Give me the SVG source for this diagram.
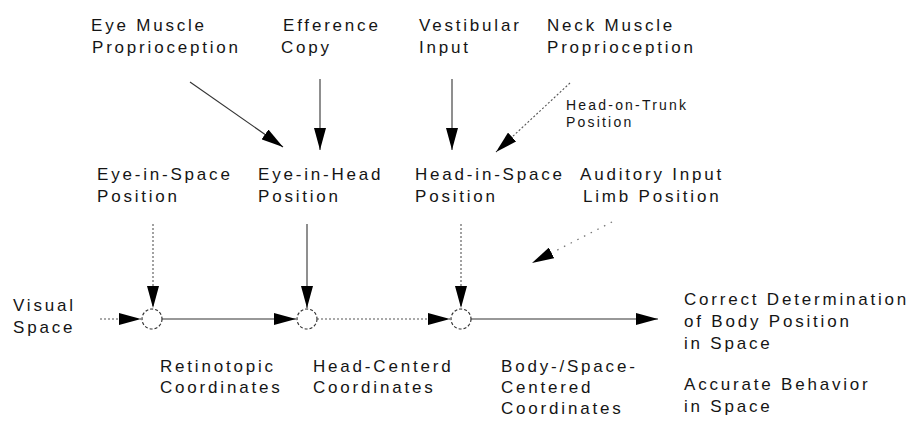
<svg xmlns="http://www.w3.org/2000/svg" width="913" height="433" viewBox="0 0 913 433">
<style>
.t{font-family:"Liberation Sans",Arial,sans-serif;font-size:17px;letter-spacing:2.8px;fill:#151515}
.s{font-family:"Liberation Sans",Arial,sans-serif;font-size:14px;letter-spacing:2.2px;fill:#151515}
.ln{fill:none;stroke:#333;stroke-width:1.1}
.dt{fill:none;stroke:#555;stroke-width:1.1;stroke-dasharray:2 2}
.sp{fill:none;stroke:#777;stroke-width:1.3;stroke-dasharray:1.5 6}
.cir{fill:#fff;stroke:#333;stroke-width:1.2;stroke-dasharray:3 2}
</style>
<defs>
<marker id="ah" markerUnits="userSpaceOnUse" markerWidth="22" markerHeight="12" refX="22" refY="6" orient="auto">
<path d="M0,0 L22,6 L0,12 z" fill="#000"/>
</marker>
</defs>
<rect width="913" height="433" fill="#fff"/>

<g id="eye-muscle"><text class="t" x="91" y="31">Eye Muscle</text><text class="t" x="92" y="53">Proprioception</text></g>
<g id="efference"><text class="t" x="283" y="31">Efference</text><text class="t" x="281" y="53">Copy</text></g>
<g id="vestibular"><text class="t" x="419" y="31">Vestibular</text><text class="t" x="419" y="53">Input</text></g>
<g id="neck-muscle"><text class="t" x="547" y="31">Neck Muscle</text><text class="t" x="547" y="53">Proprioception</text></g>
<g id="head-on-trunk"><text class="s" x="566" y="110">Head-on-Trunk</text><text class="s" x="566" y="127">Position</text></g>

<g id="eye-in-space"><text class="t" x="97" y="180">Eye-in-Space</text><text class="t" x="97" y="202">Position</text></g>
<g id="eye-in-head"><text class="t" x="258" y="180">Eye-in-Head</text><text class="t" x="258" y="202">Position</text></g>
<g id="head-in-space"><text class="t" x="415" y="180">Head-in-Space</text><text class="t" x="415" y="202">Position</text></g>
<g id="auditory"><text class="t" x="580" y="180">Auditory Input</text><text class="t" x="583" y="202">Limb Position</text></g>

<g id="visual-space"><text class="t" x="13" y="311">Visual</text><text class="t" x="13" y="333">Space</text></g>
<g id="c1"><circle class="cir" cx="152" cy="319" r="10"/></g>
<g id="c2"><circle class="cir" cx="307" cy="319" r="10"/></g>
<g id="c3"><circle class="cir" cx="461" cy="319" r="10"/></g>

<g id="retinotopic"><text class="t" x="160" y="372">Retinotopic</text><text class="t" x="160" y="393">Coordinates</text></g>
<g id="head-centered"><text class="t" x="313" y="372">Head-Centerd</text><text class="t" x="313" y="393">Coordinates</text></g>
<g id="body-centered"><text class="t" x="501" y="372">Body-/Space-</text><text class="t" x="501" y="393">Centered</text><text class="t" x="501" y="414">Coordinates</text></g>
<g id="correct"><text class="t" x="684" y="305">Correct Determination</text><text class="t" x="684" y="327">of Body Position</text><text class="t" x="684" y="349">in Space</text></g>
<g id="accurate"><text class="t" x="684" y="390">Accurate Behavior</text><text class="t" x="684" y="412">in Space</text></g>

<g id="connectors">
<line class="ln" x1="190" y1="82" x2="283" y2="147" marker-end="url(#ah)"/>
<line class="ln" x1="320" y1="79" x2="320" y2="150" marker-end="url(#ah)"/>
<line class="ln" x1="452" y1="79" x2="452" y2="150" marker-end="url(#ah)"/>
<line class="dt" x1="570" y1="83" x2="496" y2="152" marker-end="url(#ah)"/>
<line class="dt" x1="153" y1="224" x2="153" y2="308" marker-end="url(#ah)"/>
<line class="ln" x1="307" y1="224" x2="307" y2="308" marker-end="url(#ah)"/>
<line class="dt" x1="461" y1="224" x2="461" y2="308" marker-end="url(#ah)"/>
<line class="sp" x1="612" y1="222" x2="532" y2="263" marker-end="url(#ah)"/>
<line class="dt" x1="100" y1="319" x2="141" y2="319" marker-end="url(#ah)"/>
<line class="ln" x1="162" y1="319" x2="296" y2="319" marker-end="url(#ah)"/>
<line class="dt" x1="317" y1="319" x2="450" y2="319" marker-end="url(#ah)"/>
<line class="ln" x1="471" y1="319" x2="658" y2="319" marker-end="url(#ah)"/>
</g>
</svg>
